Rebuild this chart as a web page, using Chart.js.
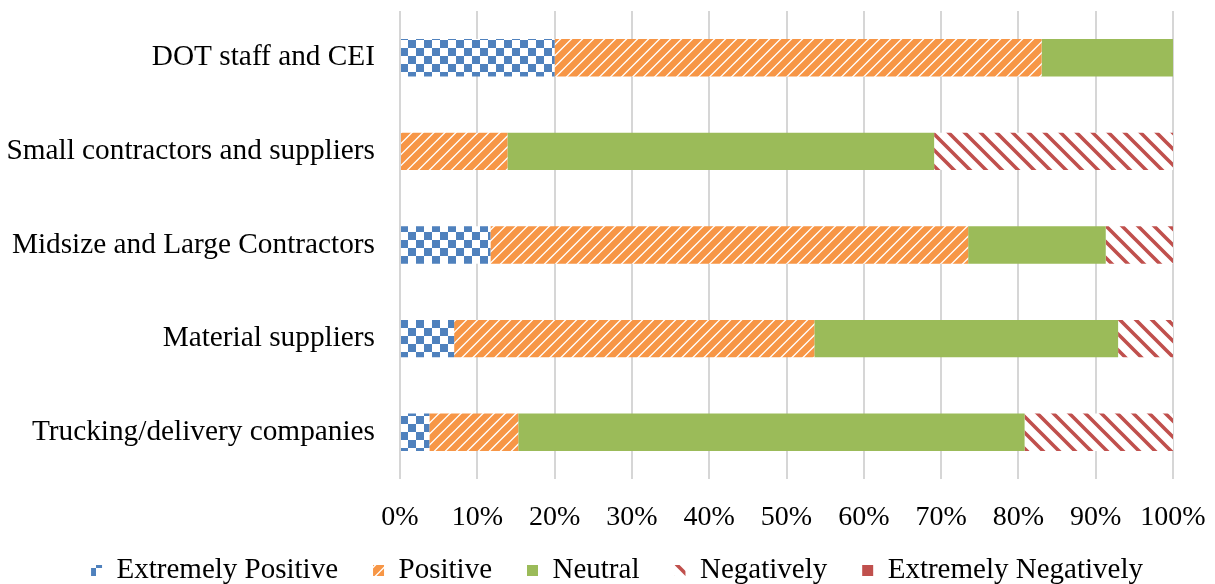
<!DOCTYPE html>
<html>
<head>
<meta charset="utf-8">
<script src="https://cdn.jsdelivr.net/npm/chart.js@4.4.1/dist/chart.umd.min.js"></script>
<style>
  html, body { margin: 0; padding: 0; background: #ffffff; }
  #wrap { width: 1215px; height: 584px; }
</style>
</head>
<body>
<div id="wrap"><canvas id="chart" width="1215" height="584"></canvas></div>
<script>
// Stakeholder groups, top to bottom
const groups = [
  'DOT staff and CEI',
  'Small contractors and suppliers',
  'Midsize and Large Contractors',
  'Material suppliers',
  'Trucking/delivery companies'
];

// Share of responses per group (%)
const extremelyPositive   = [20.0, 0.0, 11.7, 7.0, 3.8];
const positive            = [63.0, 13.9, 61.8, 46.6, 11.5];
const neutral             = [17.0, 55.2, 17.8, 39.3, 65.5];
const negatively          = [0.0, 30.9, 8.7, 7.1, 19.2];
const extremelyNegatively = [0.0, 0.0, 0.0, 0.0, 0.0];

const seriesNames = ['Extremely Positive', 'Positive', 'Neutral', 'Negatively', 'Extremely Negatively'];
const percentTicks = [0, 10, 20, 30, 40, 50, 60, 70, 80, 90, 100];

const BLUE = '#4f81bd', ORANGE = '#f79646', GREEN = '#9bbb59', RED = '#c0504d';

// Fill patterns
function checker(color, cell) {
  const c = document.createElement('canvas');
  c.width = c.height = cell * 2;
  const g = c.getContext('2d');
  g.fillStyle = '#ffffff'; g.fillRect(0, 0, c.width, c.height);
  g.fillStyle = color;
  g.fillRect(0, 0, cell, cell);
  g.fillRect(cell, cell, cell, cell);
  return g.createPattern(c, 'repeat');
}
function stripes(color, size, width, rising) {
  const c = document.createElement('canvas');
  c.width = c.height = size;
  const g = c.getContext('2d');
  g.fillStyle = '#ffffff'; g.fillRect(0, 0, size, size);
  g.strokeStyle = color; g.lineWidth = width; g.lineCap = 'square';
  g.beginPath();
  if (rising) {
    g.moveTo(-size, size); g.lineTo(size, -size);
    g.moveTo(0, size * 2); g.lineTo(size * 2, 0);
    g.moveTo(0, size); g.lineTo(size, 0);
  } else {
    g.moveTo(0, 0); g.lineTo(size, size);
    g.moveTo(-size, 0); g.lineTo(size, size * 2);
    g.moveTo(0, -size); g.lineTo(size * 2, size);
  }
  g.stroke();
  return g.createPattern(c, 'repeat');
}

const fills = [
  checker(BLUE, 8),
  stripes(ORANGE, 11, 6.5, true),
  GREEN,
  stripes(RED, 16, 3.6, false),
  RED
];
const values = [extremelyPositive, positive, neutral, negatively, extremelyNegatively];

const datasets = seriesNames.map((name, i) => ({
  label: name,
  data: values[i],
  backgroundColor: fills[i],
  borderWidth: 0,
  categoryPercentage: 1.0,
  barPercentage: 0.4
}));

const FONT = '"Liberation Serif", "Times New Roman", serif';

// Keeps the legend row compact in the layout, then places it near the bottom edge
const legendPlacement = {
  id: 'legendPlacement',
  beforeLayout(chart) {
    const lg = chart.legend;
    if (lg && !lg.__compactFit) {
      const fit = lg.fit;
      lg.fit = function () { fit.call(this); this.height = 30; };
      lg.__compactFit = true;
    }
  },
  afterLayout(chart) {
    const lg = chart.legend;
    if (!lg) return;
    lg.top = 521; lg.bottom = lg.top + 80;
    lg.left += 27; lg.right += 27;
  }
};

new Chart(document.getElementById('chart'), {
  type: 'bar',
  data: { labels: groups, datasets },
  plugins: [legendPlacement],
  options: {
    indexAxis: 'y',
    responsive: false,
    animation: false,
    devicePixelRatio: 1,
    layout: { padding: { left: 7, right: 42, top: 11, bottom: 0 } },
    plugins: {
      tooltip: { enabled: false },
      legend: {
        position: 'bottom',
        labels: {
          font: { family: FONT, size: 29 },
          color: '#000000',
          boxWidth: 11,
          boxHeight: 11,
          padding: 35
        }
      }
    },
    scales: {
      x: {
        stacked: true,
        min: 0,
        max: 100,
        afterBuildTicks: (scale) => { scale.ticks = percentTicks.map(v => ({ value: v })); },
        afterFit: (scale) => { scale.height = 75; scale.paddingLeft = 0; scale.paddingRight = 0; },
        ticks: {
          callback: (v) => v + '%',
          font: { family: FONT, size: 28 },
          color: '#000000',
          padding: 22
        },
        grid: { color: '#d6d6d6', lineWidth: 2, drawTicks: false },
        border: { display: false }
      },
      y: {
        stacked: true,
        afterFit: (scale) => { scale.width = 393; scale.paddingTop = 0; scale.paddingBottom = 0; },
        ticks: {
          font: { family: FONT, size: 29.3 },
          color: '#000000',
          padding: 25
        },
        grid: { display: false, drawTicks: false },
        border: { display: false }
      }
    }
  }
});
</script>
</body>
</html>
